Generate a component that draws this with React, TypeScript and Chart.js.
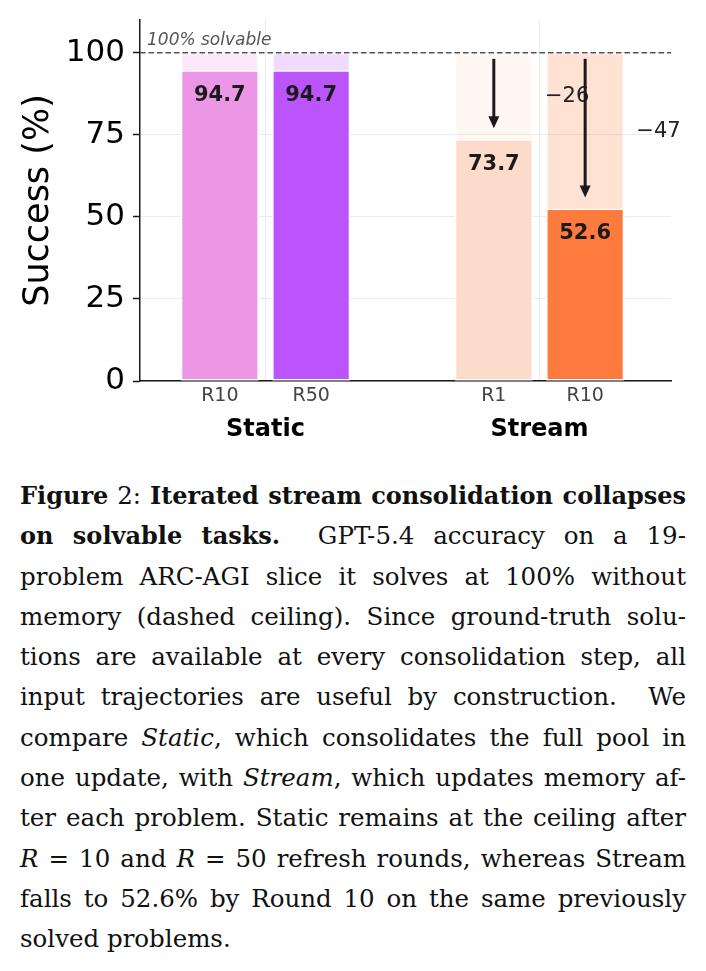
import React, { useEffect, useRef } from 'react';
import { Chart, registerables } from 'chart.js';

Chart.register(...registerables);

// ---------- data ----------
const categories = ['R10', 'R50', 'R1', 'R10'];
const groups = ['Static', 'Stream'];
const groupIndex = [0, 0, 1, 1];
const successValues = [94.7, 94.7, 73.7, 52.6];
const ceilingValue = 100;
const yTicks = [0, 25, 50, 75, 100];
const yMax = 110;
const ceilingLabel = '100% solvable';
const yTitle = 'Success (%)';
const dropGroup = 'Stream';

// ---------- styles ----------
const barColors = ['#ec97e6', '#bb55fb', '#fddbca', '#ff7a3d'];
const tintAlpha = 0.22;
const FONT = '"DejaVu Sans", sans-serif';

function tint(hex: string, a: number) {
  const n = parseInt(hex.slice(1), 16);
  return `rgba(${(n >> 16) & 255},${(n >> 8) & 255},${n & 255},${a})`;
}

// derived positions: one empty slot between groups
const xPos = categories.map((_, i) => i + groupIndex[i]);
const groupCenters = groups.map((_, g) => {
  const xs = xPos.filter((_, i) => groupIndex[i] === g);
  return xs.reduce((a, b) => a + b, 0) / xs.length;
});
const X_MIN = -0.874;
const X_MAX = 4.94;

const zeroPad = (s: any) => {
  s.paddingTop = 0;
  s.paddingBottom = 0;
  s.paddingLeft = 0;
  s.paddingRight = 0;
};

const annotationPlugin = {
  id: 'annotations',
  afterDatasetsDraw(chart: any) {
    const { ctx, chartArea, scales } = chart;
    const x = scales.x;
    const y = scales.y;
    const yc = y.getPixelForValue(ceilingValue);
    ctx.save();

    // dashed ceiling
    ctx.strokeStyle = '#555555';
    ctx.lineWidth = 1.4;
    ctx.setLineDash([5.5, 3]);
    ctx.beginPath();
    ctx.moveTo(chartArea.left, yc);
    ctx.lineTo(chartArea.right, yc);
    ctx.stroke();
    ctx.setLineDash([]);

    ctx.font = `italic 17px ${FONT}`;
    ctx.fillStyle = '#555555';
    ctx.textAlign = 'left';
    ctx.textBaseline = 'alphabetic';
    ctx.fillText(ceilingLabel, chartArea.left + 7, yc - 7.5);

    // value labels
    ctx.font = `bold 21px ${FONT}`;
    ctx.fillStyle = '#1a1a1a';
    ctx.textAlign = 'center';
    ctx.textBaseline = 'middle';
    successValues.forEach((v, i) => {
      const px = x.getPixelForValue(xPos[i]);
      ctx.fillText(v.toFixed(1), px, y.getPixelForValue(v) + 25.5);
    });

    // drop arrows + labels
    const dg = groups.indexOf(dropGroup);
    successValues.forEach((v, i) => {
      if (groupIndex[i] !== dg) return;
      const px = x.getPixelForValue(xPos[i]);
      const y0 = yc + 6;
      const y1 = y.getPixelForValue(v) - 11;
      const headLen = 12;
      const headW = 5.5;
      ctx.strokeStyle = '#1a1a1a';
      ctx.fillStyle = '#1a1a1a';
      ctx.lineWidth = 3;
      ctx.beginPath();
      ctx.moveTo(px, y0);
      ctx.lineTo(px, y1 - headLen + 1);
      ctx.stroke();
      ctx.beginPath();
      ctx.moveTo(px, y1);
      ctx.lineTo(px - headW, y1 - headLen);
      ctx.lineTo(px + headW, y1 - headLen);
      ctx.closePath();
      ctx.fill();

      ctx.font = `21px ${FONT}`;
      ctx.fillStyle = '#222222';
      ctx.textAlign = 'left';
      ctx.textBaseline = 'middle';
      const drop = Math.round(ceilingValue - v);
      ctx.fillText(`\u2212${drop}`, x.getPixelForValue(xPos[i] + 0.56), y.getPixelForValue((ceilingValue + v) / 2) + 1);
    });

    ctx.restore();
  },
};

function ChartView() {
  const ref = useRef<HTMLCanvasElement | null>(null);
  useEffect(() => {
    if (!ref.current) return;
    const chart = new Chart(ref.current, {
      type: 'bar',
      data: {
        datasets: [
          {
            label: 'Success',
            data: xPos.map((x, i) => ({ x, y: successValues[i] })),
            backgroundColor: barColors,
            borderColor: '#ffffff',
            borderWidth: 1.5,
            borderSkipped: false,
            grouped: false,
            order: 0,
            barPercentage: 1,
            categoryPercentage: 0.855,
            xAxisID: 'x',
            yAxisID: 'y',
          } as any,
          {
            label: 'Ceiling',
            data: xPos.map((x) => ({ x, y: ceilingValue })),
            backgroundColor: barColors.map((c) => tint(c, tintAlpha)),
            borderColor: '#ffffff',
            borderWidth: 1.5,
            borderSkipped: false,
            grouped: false,
            order: 1,
            barPercentage: 1,
            categoryPercentage: 0.855,
            xAxisID: 'x',
            yAxisID: 'y',
          } as any,
        ],
      },
      options: {
        responsive: false,
        animation: false,
        layout: { padding: { top: 20, right: 35, left: 0, bottom: 0 } },
        plugins: { legend: { display: false }, tooltip: { enabled: false } },
        scales: {
          x: {
            type: 'linear',
            position: 'bottom',
            min: X_MIN,
            max: X_MAX,
            offset: false,
            weight: 0,
            afterBuildTicks: (s: any) => {
              s.ticks = xPos.map((v) => ({ value: v }));
            },
            ticks: {
              autoSkip: false,
              maxRotation: 0,
              padding: 3.5,
              color: '#444444',
              font: { family: FONT, size: 19 },
              callback: (_v: any, idx: number) => categories[idx],
            },
            grid: { display: false, drawTicks: false, tickLength: 0, offset: false },
            border: { display: true, color: '#1a1a1a', width: 1.5 },
            afterFit: (s: any) => {
              s.height = 26;
              zeroPad(s);
            },
          } as any,
          x2: {
            type: 'linear',
            position: 'bottom',
            min: X_MIN,
            max: X_MAX,
            offset: false,
            weight: 1,
            afterBuildTicks: (s: any) => {
              s.ticks = groupCenters.map((v) => ({ value: v }));
            },
            ticks: {
              autoSkip: false,
              maxRotation: 0,
              padding: 8.5,
              color: '#000000',
              font: { family: FONT, size: 24, weight: 'bold' },
              callback: (_v: any, idx: number) => groups[idx],
            },
            grid: { display: true, color: '#ebebeb', lineWidth: 1, drawTicks: false, tickLength: 0, offset: false },
            border: { display: false },
            afterFit: (s: any) => {
              s.height = 53;
              zeroPad(s);
            },
          } as any,
          y: {
            type: 'linear',
            min: 0,
            max: yMax,
            afterBuildTicks: (s: any) => {
              s.ticks = yTicks.map((v) => ({ value: v }));
            },
            ticks: {
              padding: 8,
              color: '#000000',
              font: { family: FONT, size: 31 },
            },
            grid: {
              color: '#ebebeb',
              lineWidth: 1,
              drawTicks: true,
              tickLength: 7,
              tickColor: '#1a1a1a',
              tickWidth: 1.5,
            },
            border: { display: true, color: '#1a1a1a', width: 1.5 },
            title: {
              display: true,
              text: yTitle,
              color: '#000000',
              font: { family: FONT, size: 35 },
              padding: { top: 18, bottom: 0 },
            },
            afterFit: (s: any) => {
              s.width = 140;
              zeroPad(s);
            },
          } as any,
        },
      } as any,
      plugins: [annotationPlugin],
    });
    return () => chart.destroy();
  }, []);
  return <canvas ref={ref} width={706} height={460} style={{ display: 'block', width: 706, height: 460 }} />;
}

const lineStyle: React.CSSProperties = {
  textAlign: 'justify',
  textAlignLast: 'justify' as any,
  height: 40.3,
  lineHeight: '40.3px',
  overflow: 'visible',
};
const lastLineStyle: React.CSSProperties = { ...lineStyle, textAlign: 'left', textAlignLast: 'left' as any };
const boldStyle: React.CSSProperties = { fontWeight: 'bold', fontSize: 24 };

export default function App() {
  return (
    <div style={{ position: 'absolute', left: 0, top: 0, width: 706, height: 971, background: '#ffffff' }}>
      <ChartView />
      <div
        style={{
          position: 'absolute',
          left: 20,
          top: 476,
          width: 666,
          fontFamily: '"DejaVu Serif", serif',
          fontSize: 24.5,
          color: '#111111',
        }}
      >
        <div style={lineStyle}>
          <span style={boldStyle}>Figure</span> 2: <span style={boldStyle}>Iterated stream consolidation collapses</span>
        </div>
        <div style={lineStyle}>
          <span style={boldStyle}>on solvable tasks.</span>&nbsp; GPT-5.4 accuracy on a 19-
        </div>
        <div style={lineStyle}>problem ARC-AGI slice it solves at 100% without</div>
        <div style={lineStyle}>memory (dashed ceiling). Since ground-truth solu-</div>
        <div style={lineStyle}>tions are available at every consolidation step, all</div>
        <div style={lineStyle}>input trajectories are useful by construction.&nbsp; We</div>
        <div style={lineStyle}>
          compare <i>Static</i>, which consolidates the full pool in
        </div>
        <div style={lineStyle}>
          one update, with <i>Stream</i>, which updates memory af-
        </div>
        <div style={lineStyle}>ter each problem. Static remains at the ceiling after</div>
        <div style={lineStyle}>
          <i>R</i> = 10 and <i>R</i> = 50 refresh rounds, whereas Stream
        </div>
        <div style={lineStyle}>falls to 52.6% by Round 10 on the same previously</div>
        <div style={lastLineStyle}>solved problems.</div>
      </div>
    </div>
  );
}
